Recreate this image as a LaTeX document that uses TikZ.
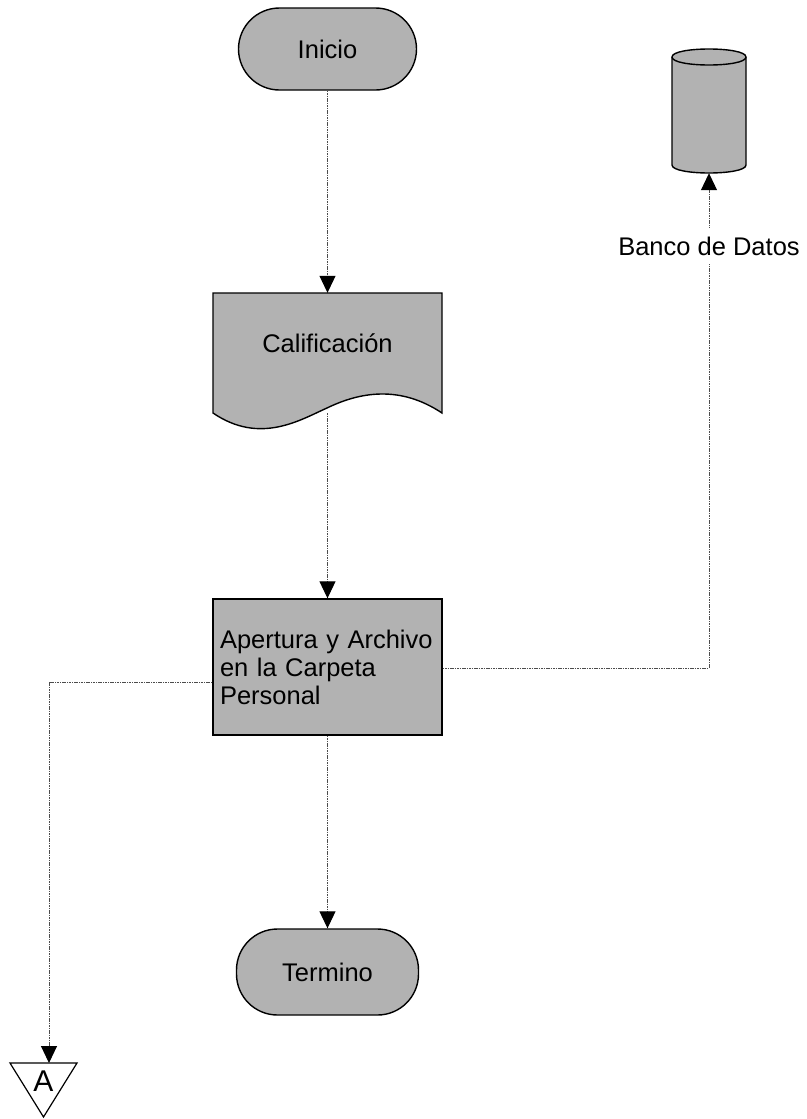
\documentclass[tikz,border=0pt]{standalone}
\usepackage{fontspec}
\setmainfont{Liberation Sans}
\usetikzlibrary{arrows.meta}
\begin{document}
\begin{tikzpicture}[x=1pt,y=-1pt,
  shapefill/.style={fill=black!30, draw=black, line width=1.4pt},
  txt/.style={font=\fontsize{25.5}{28}\selectfont},
  terminal/.style={shapefill, txt, rounded corners=41pt, inner sep=0pt},
  link/.style={draw=black!70, line width=1pt, dash pattern=on 1.6pt off 0.8pt,
    -{Triangle[width=16pt,length=17pt,color=black,fill=black]}}]
\useasboundingbox (0,0) rectangle (806,1119);

% start and end terminals
\node[terminal, minimum width=178pt, minimum height=82pt] (inicio) at (327.5,49) {Inicio};
\node[terminal, minimum width=182pt, minimum height=86pt] (termino) at (327.5,972) {Termino};

% document symbol with wavy bottom edge
\filldraw[shapefill] (213,293) -- (442,293) -- (442,413)
  .. controls (400,385) and (360,392) .. (327,408)
  .. controls (300,420) and (260,445) .. (213,413) -- cycle;
\node[txt, minimum width=229pt, minimum height=120pt, inner sep=0pt,
  text height=23pt, text depth=24pt] (calif) at (327.5,353) {Calificación};

% process box
\node[shapefill, txt, minimum width=229pt, minimum height=136pt, inner sep=7pt,
  text width=215pt, align=left] (aper) at (327.5,667)
  {Apertura y Archivo\\en la Carpeta\\Personal};

% data bank cylinder
\node[minimum width=74pt, minimum height=124pt, inner sep=0pt] (db) at (709,111) {};
\filldraw[shapefill] (672,57) -- (672,165)
  .. controls (672,175.67) and (746,175.67) .. (746,165) -- (746,57)
  .. controls (746,46.33) and (672,46.33) .. (672,57) -- cycle;
\draw[line width=1.4pt] (672,57) .. controls (672,67.67) and (746,67.67) .. (746,57);

% off-page connector
\draw[line width=1.2pt] (10,1063) -- (77,1063) -- (43.5,1117) -- cycle;
\node[font=\fontsize{30}{30}\selectfont, inner sep=0pt] (conA) at (43.5,1081) {A};

% connectors
\coordinate (lturn) at (49,682);
\coordinate (atop) at (49,1063);
\coordinate (rturn) at (709,668);

\draw[link] (inicio.south) -- (calif.north);
\draw[link] (calif.south) -- (aper.north);
\draw[link] (aper.south) -- (termino.north);
\draw[link] (aper.west |- lturn) -- (lturn) -- (atop);
\draw[link] (aper.east |- rturn) -- (rturn) --
  node[pos=0.853, fill=white, txt, inner xsep=2pt, inner ysep=9pt] (banco) {Banco de Datos}
  (db.south);
\end{tikzpicture}
\end{document}
